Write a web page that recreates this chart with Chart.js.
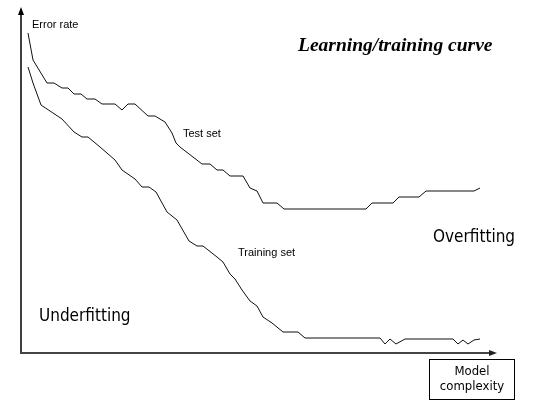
<!DOCTYPE html>
<html>
<head>
<meta charset="utf-8">
<script src="https://cdn.jsdelivr.net/npm/chart.js@4"></script>
<style>
html,body{margin:0;padding:0;background:#fff;}
canvas{display:block;}
</style>
</head>
<body>
<canvas id="c" width="541" height="406"></canvas>
<script>
// Model complexity (x) and error rate (y)
const testComplexity = [7,12,26,33,41,47,53,60,66,74,81,94,101,107,114,127,134,144,151,155,159,181,189,196,202,209,222,229,236,242,256,263,345,351,372,378,398,405,453,459];
const testError      = [320,293,270,270,265,265,259,259,254,254,249,249,243,249,249,237,237,231,220,210,206,189,189,183,183,177,177,165,162,150,150,144,144,150,150,156,156,162,162,165];
const trainComplexity = [7,12,20,32,41,53,61,67,79,94,101,114,121,128,135,146,151,156,168,176,182,196,202,209,214,221,229,236,242,251,262,277,284,359,364,369,375,384,432,437,442,447,453,459];
const trainError      = [286,270,248,240,234,221,216,216,206,193,183,174,166,166,161,141,137,133,112,107,107,96,91,79,74,63,52,47,36,30,21,21,15,15,9,14,9,14,14,9,13,9,13,14];
const seriesNames = ["Test set", "Training set"];
const xMax = 476, yMax = 346;

function pts(xs, ys){ return xs.map((x,i)=>({x:x, y:ys[i]})); }

const decor = {
  id: 'decor',
  afterDraw(chart){
    const ctx = chart.ctx;
    const xs = chart.scales.x, ys = chart.scales.y;
    const x0 = xs.getPixelForValue(0), y0 = ys.getPixelForValue(0);
    const xEnd = xs.getPixelForValue(xMax), yTop = ys.getPixelForValue(yMax);
    ctx.save();
    // y axis
    ctx.strokeStyle = '#000'; ctx.lineWidth = 1.5;
    ctx.beginPath(); ctx.moveTo(x0, y0); ctx.lineTo(x0, yTop + 6); ctx.stroke();
    ctx.fillStyle = '#000';
    ctx.beginPath(); ctx.moveTo(x0, yTop); ctx.lineTo(x0 - 3, yTop + 8); ctx.lineTo(x0 + 3, yTop + 8); ctx.closePath(); ctx.fill();
    // x axis
    ctx.strokeStyle = '#444'; ctx.lineWidth = 2;
    ctx.beginPath(); ctx.moveTo(x0 - 1, y0); ctx.lineTo(xEnd - 6, y0); ctx.stroke();
    ctx.fillStyle = '#222';
    ctx.beginPath(); ctx.moveTo(xEnd, y0); ctx.lineTo(xEnd - 8, y0 - 3); ctx.lineTo(xEnd - 8, y0 + 3); ctx.closePath(); ctx.fill();

    // texts
    ctx.fillStyle = '#000';
    ctx.textAlign = 'left';
    ctx.textBaseline = 'middle';
    ctx.font = '11px "Liberation Sans", Arial, sans-serif';
    ctx.fillText('Error rate', 32, 25);
    ctx.fillText(seriesNames[0], 183, 134);
    ctx.fillText(seriesNames[1], 238, 253);

    ctx.textBaseline = 'alphabetic';
    ctx.font = 'italic bold 19.5px "Liberation Serif", "Times New Roman", serif';
    ctx.fillText('Learning/training curve', 298, 51);

    ctx.font = '17px "DejaVu Sans Condensed", "DejaVu Sans", sans-serif';
    ctx.fillText('Underfitting', 39, 321);
    ctx.fillText('Overfitting', 433, 242);

    // Model complexity box
    ctx.strokeStyle = '#000'; ctx.lineWidth = 1;
    ctx.strokeRect(429.5, 359.5, 85, 40);
    ctx.textAlign = 'center'; ctx.textBaseline = 'middle';
    ctx.font = '13px "DejaVu Sans Condensed", "DejaVu Sans", sans-serif';
    ctx.fillText('Model', 472, 372);
    ctx.fillText('complexity', 472, 387);
    ctx.restore();
  }
};

new Chart(document.getElementById('c'), {
  type: 'line',
  data: {
    datasets: [
      { label: seriesNames[0], data: pts(testComplexity, testError), borderColor: '#111', borderWidth: 1, pointRadius: 0, tension: 0, fill: false },
      { label: seriesNames[1], data: pts(trainComplexity, trainError), borderColor: '#111', borderWidth: 1, pointRadius: 0, tension: 0, fill: false }
    ]
  },
  options: {
    responsive: false,
    animation: false,
    devicePixelRatio: 1,
    layout: { padding: { left: 21, right: 44, top: 7, bottom: 53 } },
    scales: {
      x: { type: 'linear', min: 0, max: xMax, display: false },
      y: { type: 'linear', min: 0, max: yMax, display: false }
    },
    plugins: { legend: { display: false }, tooltip: { enabled: false }, title: { display: false } }
  },
  plugins: [decor]
});
</script>
</body>
</html>
